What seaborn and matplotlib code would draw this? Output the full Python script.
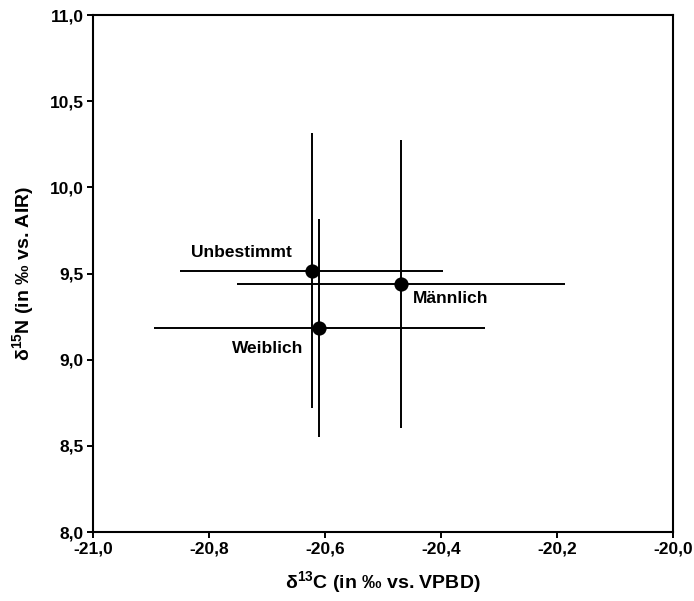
import matplotlib
matplotlib.use("Agg")
import matplotlib.pyplot as plt
import seaborn as sns
import pandas as pd

# -------------------------------
# Data
# -------------------------------
groups = ["Unbestimmt", "Männlich", "Weiblich"]
d13c = [-20.623, -20.470, -20.610]
d15n = [9.516, 9.439, 9.182]
d13c_err = [0.227, 0.283, 0.285]
d15n_err = [0.797, 0.837, 0.632]

x_ticks = [-21.0, -20.8, -20.6, -20.4, -20.2, -20.0]
x_tick_labels = ["-21,0", "-20,8", "-20,6", "-20,4", "-20,2", "-20,0"]
y_ticks = [8.0, 8.5, 9.0, 9.5, 10.0, 10.5, 11.0]
y_tick_labels = ["8,0", "8,5", "9,0", "9,5", "10,0", "10,5", "11,0"]

df = pd.DataFrame({"group": groups, "d13c": d13c, "d15n": d15n,
                   "xerr": d13c_err, "yerr": d15n_err})

# -------------------------------
# Style
# -------------------------------
sns.set_style("ticks")
plt.rcParams["font.family"] = ["Liberation Sans", "DejaVu Sans"]
plt.rcParams["font.weight"] = "bold"
plt.rcParams["mathtext.fontset"] = "custom"
plt.rcParams["mathtext.rm"] = "Liberation Sans"
plt.rcParams["mathtext.bf"] = "Liberation Sans:bold"
for key in ["text.color", "axes.labelcolor", "xtick.color", "ytick.color"]:
    plt.rcParams[key] = "black"

fig = plt.figure(figsize=(6.94, 6.01), dpi=100)
ax = fig.add_axes([0.1345, 0.1148, 0.8352, 0.8602])

# Error bars first, points on top
ax.errorbar(df["d13c"], df["d15n"], xerr=df["xerr"], yerr=df["yerr"],
            fmt="none", ecolor="black", elinewidth=1.4, capsize=0, zorder=2)
sns.scatterplot(data=df, x="d13c", y="d15n", color="black", s=105,
                edgecolor="black", linewidth=0, ax=ax, zorder=3, legend=False)

# Labels next to points (offsets in pixels)
label_offsets = {"Unbestimmt": (-70, 18, "center"),
                 "Männlich": (12, -14, "left"),
                 "Weiblich": (-52, -20, "center")}
for _, row in df.iterrows():
    dx, dy, ha = label_offsets[row["group"]]
    ax.annotate(row["group"], (row["d13c"], row["d15n"]), xytext=(dx, dy),
                textcoords="offset pixels", ha=ha, va="center",
                fontsize=12.5, fontweight="bold")

ax.set_xlim(-21.0, -20.0)
ax.set_ylim(8.0, 11.0)
ax.set_xticks(x_ticks)
ax.set_xticklabels(x_tick_labels)
ax.set_yticks(y_ticks)
ax.set_yticklabels(y_tick_labels)
ax.tick_params(direction="out", length=4, width=1.4, labelsize=12.5, pad=3)
for lbl in ax.get_xticklabels() + ax.get_yticklabels():
    lbl.set_fontweight("bold")

for side in ["top", "right", "bottom", "left"]:
    ax.spines[side].set_visible(True)
    ax.spines[side].set_linewidth(1.5)
    ax.spines[side].set_color("black")

ax.set_xlabel(r"δ$^{\mathbf{13}}$C (in ‰ vs. VPBD)", fontsize=14,
              fontweight="bold", labelpad=9)
ax.set_ylabel(r"δ$^{\mathbf{15}}$N (in ‰ vs. AIR)", fontsize=14,
              fontweight="bold", labelpad=9)

fig.savefig("out.png", dpi=100)
plt.close(fig)
